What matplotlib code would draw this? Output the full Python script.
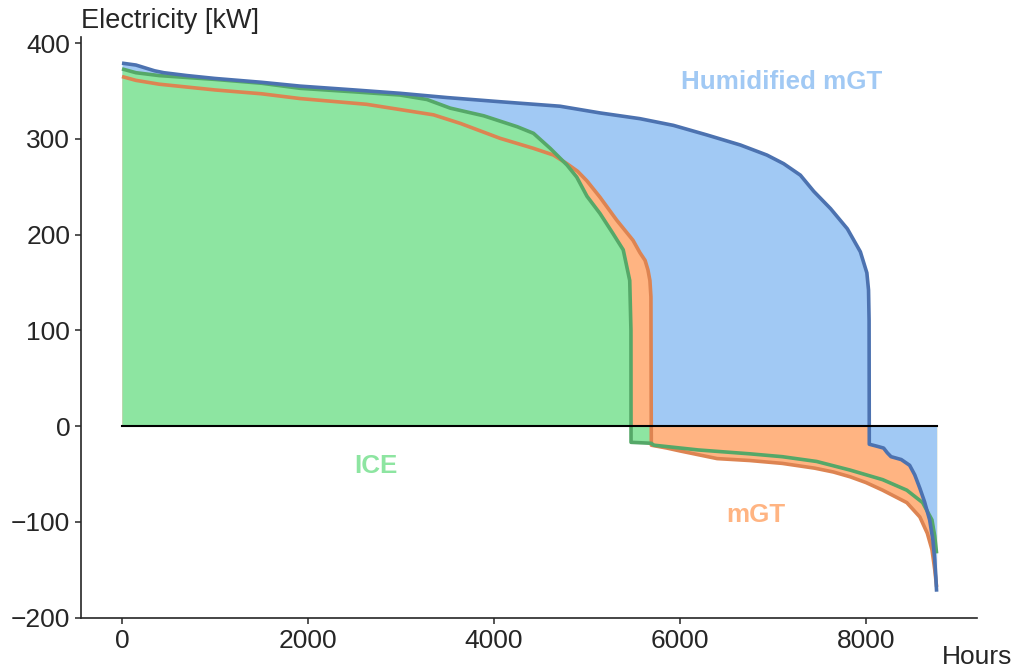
import numpy as np
import matplotlib
matplotlib.use("Agg")
import matplotlib.pyplot as plt

# Load duration curves: hours of the year vs. net electricity [kW]
hum_mgt_hours = [0, 150, 250, 350, 450, 700, 1000, 1500, 1915, 2500, 2990, 3500,
                 4065, 4710, 5140, 5570, 5930, 6290, 6650, 6935, 7115, 7295,
                 7440, 7620, 7800, 7940, 8010, 8028, 8034, 8036, 8115, 8190,
                 8230, 8270, 8380, 8470, 8525, 8580, 8630, 8685, 8720, 8740,
                 8752, 8760]
hum_mgt_kw = [379, 377, 374, 371, 369, 366, 363, 359, 355, 351, 347.5, 343,
              338.7, 334, 327, 321, 314, 304, 293.5, 283, 274, 262,
              245, 227, 206, 182, 160, 142, 110, -19, -21, -23,
              -28, -32, -35, -41, -51, -65, -79, -98, -119, -140,
              -158, -173]

mgt_hours = [0, 150, 400, 1000, 1500, 1915, 2630, 3350, 3640, 4065, 4425, 4640,
             4785, 4900, 5000, 5140, 5320, 5495, 5570, 5625, 5656, 5677, 5688,
             5692, 5860, 6000, 6200, 6400, 6750, 7100, 7450, 7650, 7830, 8000,
             8180, 8440, 8580, 8660, 8710, 8740, 8760]
mgt_kw = [365, 361, 357, 351, 347, 342, 336, 325, 316, 300.5, 290, 283,
          274, 266, 256, 239, 215, 194, 181, 173, 163, 152, 135,
          -20, -23, -26, -30, -34, -36, -39, -44, -48, -53, -59,
          -67, -80, -95, -112, -129, -150, -168]

ice_hours = [0, 150, 400, 1000, 1500, 1915, 2500, 2990, 3280, 3530, 3890, 4250,
             4425, 4605, 4785, 4890, 5000, 5140, 5280, 5390, 5460, 5473, 5474,
             5690, 5720, 6200, 6750, 7100, 7470, 7830, 8180, 8440, 8610, 8710,
             8740, 8760]
ice_kw = [373, 369, 366, 362, 358, 352.7, 349, 345.7, 341, 332, 324, 312.6,
          305.7, 290, 272.6, 260, 240, 222, 201, 184, 152, 100, -17,
          -18, -20, -25, -29, -32, -37, -46, -56, -67, -80, -98,
          -115, -133]

series = {
    "Humidified mGT": (hum_mgt_hours, hum_mgt_kw, "#4C72B0", "#A1C9F4"),
    "mGT": (mgt_hours, mgt_kw, "#DD8452", "#FFB482"),
    "ICE": (ice_hours, ice_kw, "#55A868", "#8DE5A1"),
}

plt.rcParams["font.family"] = ["Liberation Sans", "DejaVu Sans"]
text_color = "#262626"

fig = plt.figure(figsize=(10.17, 6.71), dpi=100)
ax = fig.add_axes([0.0799, 0.0788, 0.8811, 0.8665])

# positive parts: largest area first, so smaller areas stay visible on top
for name in ["Humidified mGT", "mGT", "ICE"]:
    h, kw, line_c, fill_c = series[name]
    h = np.asarray(h, float)
    kw = np.asarray(kw, float)
    ax.fill_between(h, 0, np.clip(kw, 0, None), color=fill_c, lw=0, zorder=1)

# negative parts: reversed stacking order
for name in ["ICE", "mGT", "Humidified mGT"]:
    h, kw, line_c, fill_c = series[name]
    h = np.asarray(h, float)
    kw = np.asarray(kw, float)
    ax.fill_between(h, 0, np.clip(kw, None, 0), color=fill_c, lw=0, zorder=1)

for name in ["mGT", "ICE", "Humidified mGT"]:
    h, kw, line_c, fill_c = series[name]
    ax.plot(h, kw, color=line_c, lw=2.6, zorder=3, solid_capstyle="butt",
            solid_joinstyle="round")

ax.plot([0, 8760], [0, 0], color="black", lw=1.5, zorder=4)

# inline labels
ax.text(7094, 352, "Humidified mGT", color="#A1C9F4", fontsize=18.7,
        fontweight="bold", ha="center", va="baseline")
ax.text(2735, -49, "ICE", color="#8DE5A1", fontsize=18.7,
        fontweight="bold", ha="center", va="baseline")
ax.text(6815, -100, "mGT", color="#FFB482", fontsize=18.7,
        fontweight="bold", ha="center", va="baseline")

ax.set_xticks([0, 2000, 4000, 6000, 8000])
ax.set_yticks([-200, -100, 0, 100, 200, 300, 400])
ax.tick_params(axis="both", labelsize=19, length=4, width=1.1, pad=4,
               colors=text_color, labelcolor=text_color)

for side in ["top", "right"]:
    ax.spines[side].set_visible(False)
for side in ["left", "bottom"]:
    ax.spines[side].set_color(text_color)
    ax.spines[side].set_linewidth(1.2)

ax.set_ylabel("Electricity [kW]", rotation=0, fontsize=19.5, color=text_color,
              ha="left", va="center")
ax.yaxis.set_label_coords(0.0, 1.027)
ax.set_xlabel("Hours", fontsize=19, color=text_color, ha="left", va="center")
ax.xaxis.set_label_coords(0.96, -0.067)

fig.savefig("out.png", dpi=100, facecolor="white")
